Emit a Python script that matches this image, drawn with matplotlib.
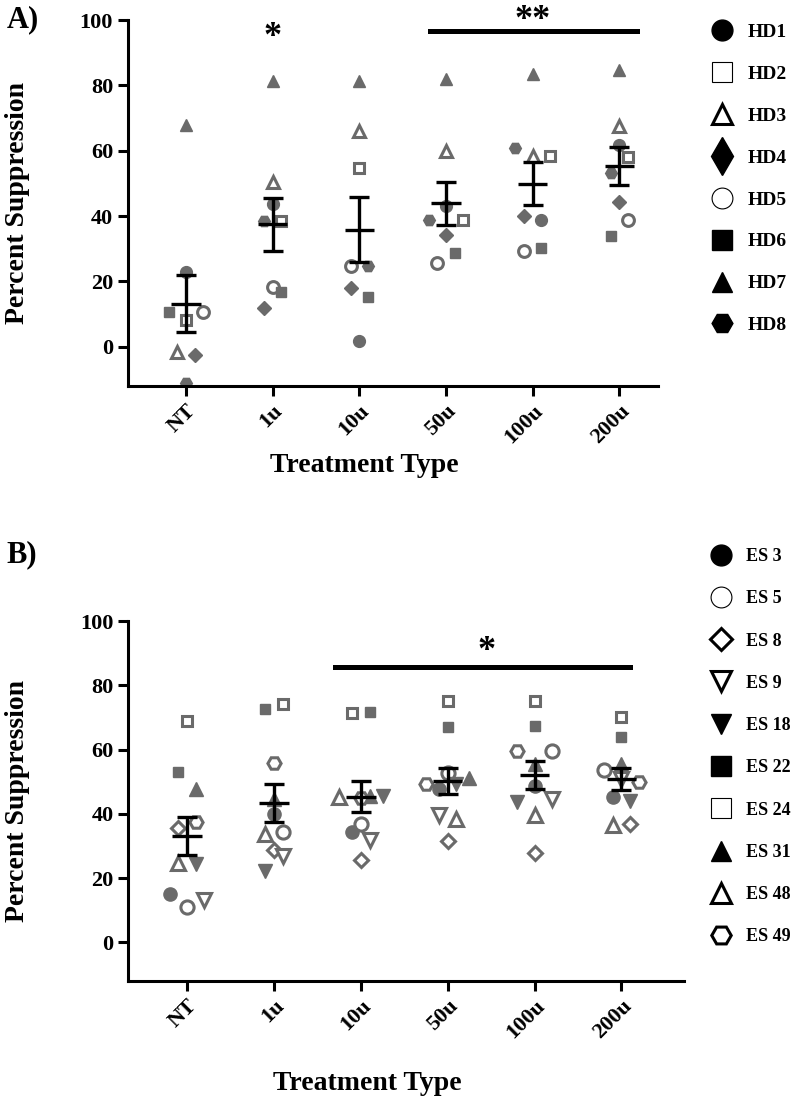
import numpy as np
import matplotlib.pyplot as plt
from matplotlib.lines import Line2D

plt.rcParams["font.family"] = "Liberation Serif"
plt.rcParams["font.weight"] = "bold"
plt.rcParams["axes.labelweight"] = "bold"

treatments = ["NT", "1u", "10u", "50u", "100u", "200u"]

# Panel A - healthy donors (percent suppression per treatment)
hd_names = ["HD1", "HD2", "HD3", "HD4", "HD5", "HD6", "HD7", "HD8"]
hd1 = [23.0, 43.8, 1.8, 43.0, 38.7, 61.9]
hd2 = [8.2, 38.5, 54.7, 38.8, 58.5, 58.0]
hd3 = [-1.5, 50.4, 65.9, 59.8, 58.5, 67.7]
hd4 = [-2.5, 11.8, 18.1, 34.1, 40.0, 44.3]
hd5 = [10.5, 18.4, 24.7, 25.7, 29.3, 38.8]
hd6 = [10.8, 16.8, 15.3, 28.6, 30.1, 33.9]
hd7 = [68.0, 81.4, 81.4, 82.1, 83.5, 84.7]
hd8 = [-11.0, 38.5, 24.7, 38.8, 60.8, 53.2]

# Panel B - ES patients
es_names = ["ES 3", "ES 5", "ES 8", "ES 9", "ES 18", "ES 22", "ES 24", "ES 31", "ES 48", "ES 49"]
es3 = [15.1, 40.0, 34.5, 47.7, 48.7, 45.1]
es5 = [11.1, 34.5, 37.0, 52.7, 59.6, 53.8]
es8 = [35.7, 28.9, 25.8, 31.6, 27.8, 37.0]
es9 = [13.1, 27.0, 31.9, 39.5, 44.6, 51.0]
es18 = [24.5, 22.1, 45.6, 49.2, 43.8, 44.1]
es22 = [52.9, 72.6, 71.7, 67.0, 67.3, 63.9]
es24 = [69.0, 74.1, 71.5, 75.1, 75.1, 70.2]
es31 = [47.7, 44.6, 45.5, 51.2, 55.5, 55.6]
es48 = [24.8, 33.6, 45.1, 38.5, 39.7, 36.5]
es49 = [37.5, 55.8, 45.0, 49.2, 59.6, 49.9]

# horizontal jitter of each donor inside a column (category units)
jit_a = [[0, 0, 0, 0, 0.1, 0], [0, 0.1, 0, 0.2, 0.2, 0.1], [-0.1, 0, 0, 0, 0, 0],
         [0.1, -0.1, -0.1, 0, -0.1, 0], [0.2, 0, -0.1, -0.1, -0.1, 0.1],
         [-0.2, 0.1, 0.1, 0.1, 0.1, -0.1], [0, 0, 0, 0, 0, 0],
         [0, -0.1, 0.1, -0.2, -0.2, -0.1]]
jit_b = [[-0.2, 0, -0.1, -0.1, 0, -0.1], [0, 0.1, 0, 0, 0.2, -0.2],
         [-0.1, 0, 0, 0, 0, 0.1], [0.2, 0.1, 0.1, -0.1, 0.2, 0],
         [0.1, -0.1, 0.25, 0.1, -0.2, 0.1], [-0.1, -0.1, 0.1, 0, 0, 0],
         [0, 0.1, -0.1, 0, 0, 0], [0.1, 0, 0.1, 0.25, 0, 0],
         [-0.1, -0.1, -0.25, 0.1, 0, -0.1], [0.1, 0, 0, -0.25, -0.2, 0.2]]

GRAY = "#6a6a6a"
# data marker, legend marker, filled, legend edge width, legend size
hd_style = [("o", "o", True, 1, 15), ("s", "s", False, 0.8, 15), ("^", "^", False, 2.2, 15),
            ("D", "d", True, 1, 19), ("o", "o", False, 0.8, 15), ("s", "s", True, 1, 15),
            ("^", "^", True, 1, 15), ("H", "H", True, 1, 15)]
es_style = [("o", "o", True, 1, 15), ("o", "o", False, 0.8, 15), ("D", "D", False, 2.2, 11),
            ("v", "v", False, 2.2, 14), ("v", "v", True, 1, 14), ("s", "s", True, 1, 14),
            ("s", "s", False, 0.8, 14), ("^", "^", True, 1, 14), ("^", "^", False, 2.2, 14),
            ("H", "H", False, 2.2, 14)]

fig = plt.figure(figsize=(8, 11.07), dpi=100)
axA = fig.add_axes([0.1596, 0.6513, 0.663, 0.3306])
axB = fig.add_axes([0.16, 0.1138, 0.695, 0.3252])


def draw_panel(ax, series, styles, jitter, xlim, size):
    x = np.arange(len(treatments))
    for vals, (m, _, filled, _, _), jit in zip(series, styles, jitter):
        ms = size * 0.8 if m in ("s", "D") else size
        ax.plot(x + np.array(jit), vals, linestyle="none", marker=m, markersize=ms,
                color=GRAY, markerfacecolor=GRAY if filled else "white",
                markeredgewidth=1 if filled else 2.2, zorder=2)
    data = np.array(series)
    mean = data.mean(axis=0)
    sem = data.std(axis=0, ddof=1) / np.sqrt(data.shape[0])
    ax.hlines(mean, x - 0.17, x + 0.17, color="black", linewidth=2.4, zorder=3)
    ax.errorbar(x, mean, yerr=sem, fmt="none", ecolor="black", elinewidth=2.4,
                capsize=7, capthick=2.4, zorder=3)
    ax.set_xlim(*xlim)
    ax.set_ylim(-12, 100)
    ax.set_yticks(range(0, 101, 20))
    ax.set_xticks(x)
    ax.set_xticklabels(treatments, rotation=45, ha="right", rotation_mode="anchor")
    for s in ["top", "right"]:
        ax.spines[s].set_visible(False)
    for s in ["left", "bottom"]:
        ax.spines[s].set_linewidth(2.2)
    ax.tick_params(width=2.2, length=7, labelsize=16)
    ax.set_ylabel("Percent Suppression", fontsize=20)
    ax.set_xlabel("Treatment Type", fontsize=20)


def legend_handles(names, styles):
    hs = []
    for name, (_, m, filled, lw, ms) in zip(names, styles):
        hs.append(Line2D([], [], linestyle="none", marker=m, markersize=ms,
                         color="black", markerfacecolor="black" if filled else "white",
                         markeredgewidth=lw, label=name))
    return hs


hd_series = [hd1, hd2, hd3, hd4, hd5, hd6, hd7, hd8]
es_series = [es3, es5, es8, es9, es18, es22, es24, es31, es48, es49]

draw_panel(axA, hd_series, hd_style, jit_a, (-0.673, 5.446), 8.5)
draw_panel(axB, es_series, es_style, jit_b, (-0.68, 5.72), 9.5)

axA.yaxis.set_label_coords(-0.185, 0.5)
axA.xaxis.set_label_coords(0.447, -0.183)
axB.yaxis.set_label_coords(-0.177, 0.5)
axB.xaxis.set_label_coords(0.43, -0.25)

# significance marks
axA.text(1, 94.6, "*", ha="center", va="center", fontsize=26, clip_on=False)
axA.plot([2.81, 5.2], [96.6, 96.6], color="black", linewidth=3.6, clip_on=False)
axA.text(4.0, 100, "**", ha="center", va="center", fontsize=26, clip_on=False)
axB.plot([1.7, 5.1], [85.8, 85.8], color="black", linewidth=3.6, clip_on=False)
axB.text(3.45, 90.5, "*", ha="center", va="center", fontsize=26, clip_on=False)

fig.text(0.008, 0.9955, "A)", fontsize=22, va="top")
fig.text(0.008, 0.512, "B)", fontsize=22, va="top")

axA.legend(handles=legend_handles(hd_names, hd_style), loc="upper left",
           bbox_to_anchor=(0.8875, 0.979), bbox_transform=fig.transFigure,
           frameon=False, fontsize=14, labelspacing=1.25, handletextpad=0.75,
           handlelength=1.2, borderpad=0, borderaxespad=0)
axB.legend(handles=legend_handles(es_names, es_style), loc="upper left",
           bbox_to_anchor=(0.8875, 0.505), bbox_transform=fig.transFigure,
           frameon=False, fontsize=13, labelspacing=1.4, handletextpad=0.8,
           handlelength=1.2, borderpad=0, borderaxespad=0)

fig.savefig("out.png", dpi=100)
